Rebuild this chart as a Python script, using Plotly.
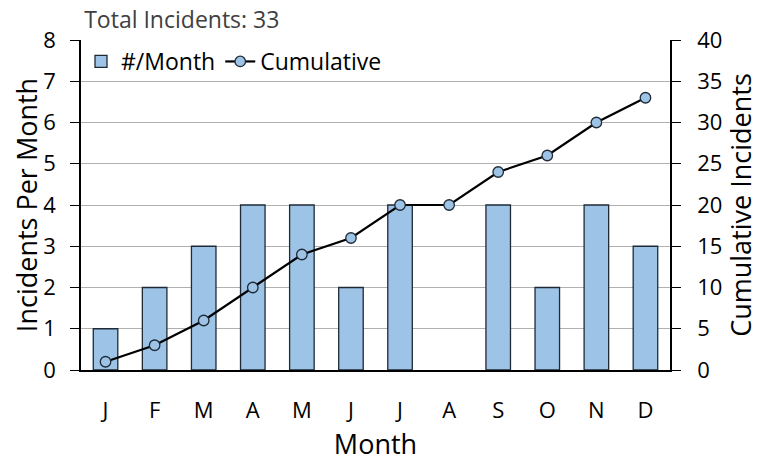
import plotly.graph_objects as go

# monthly incident counts
months = ["J", "F", "M", "A", "M", "J", "J", "A", "S", "O", "N", "D"]
per_month = [1, 2, 3, 4, 4, 2, 4, 0, 4, 2, 4, 3]
cumulative = [1, 3, 6, 10, 14, 16, 20, 20, 24, 26, 30, 33]
total = 33

xpos = list(range(len(months)))
font_name = "Open Sans"
edge = "#1f2a36"

# no outline on empty bars
bar_lines = [0 if v == 0 else 1.3 for v in per_month]

fig = go.Figure()
fig.add_trace(go.Bar(name="#/Month", x=xpos, y=per_month, width=0.5,
                     marker=dict(color="#9DC3E6", line=dict(color=edge, width=bar_lines)),
                     yaxis="y"))
fig.add_trace(go.Scatter(name="Cumulative", x=xpos, y=cumulative, yaxis="y2",
                         mode="lines+markers",
                         line=dict(color="black", width=2.2),
                         marker=dict(size=10.5, color="#9DC3E6", line=dict(color=edge, width=1.3))))

fig.update_layout(
    width=762, height=464,
    margin=dict(l=73, r=100, t=32, b=102, autoexpand=False),
    paper_bgcolor="white", plot_bgcolor="white",
    font=dict(family=font_name, color="black", size=22),
    showlegend=True,
    legend=dict(orientation="h", x=0.0, y=1.0, xanchor="left", yanchor="top",
                bgcolor="rgba(255,255,255,0)", font=dict(size=23),
                tracegroupgap=0),
    bargap=0.5,
    title=dict(text="Total Incidents: " + str(total), xref="container", x=0.1, xanchor="left",
               yref="container", y=1.0, yanchor="top", pad=dict(t=4),
               font=dict(size=23, color="#404040")),
    xaxis=dict(tickvals=xpos, ticktext=months, range=[-0.5, 11.5],
               showline=True, linecolor="black", linewidth=1.5, ticks="",
               ticklabelstandoff=20, automargin=False,
               title=dict(text="Month", font=dict(size=27), standoff=12),
               showgrid=False, zeroline=False),
    yaxis=dict(range=[0, 8], dtick=1, showline=True, linecolor="black", linewidth=1.5,
               ticks="outside", ticklen=9, tickcolor="black", automargin=False,
               ticklabelstandoff=10,
               gridcolor="#b0b0b0", gridwidth=1, zeroline=False,
               title=dict(text="Incidents Per Month", font=dict(size=27), standoff=2)),
    yaxis2=dict(range=[0, 40], dtick=5, overlaying="y", side="right",
                showline=True, linecolor="black", linewidth=1.5,
                ticks="outside", ticklen=9, tickcolor="black", automargin=False,
                ticklabelstandoff=12,
                showgrid=False, zeroline=False,
                title=dict(text="Cumulative Incidents", font=dict(size=27), standoff=6)),
)

fig.write_html("out.html")
